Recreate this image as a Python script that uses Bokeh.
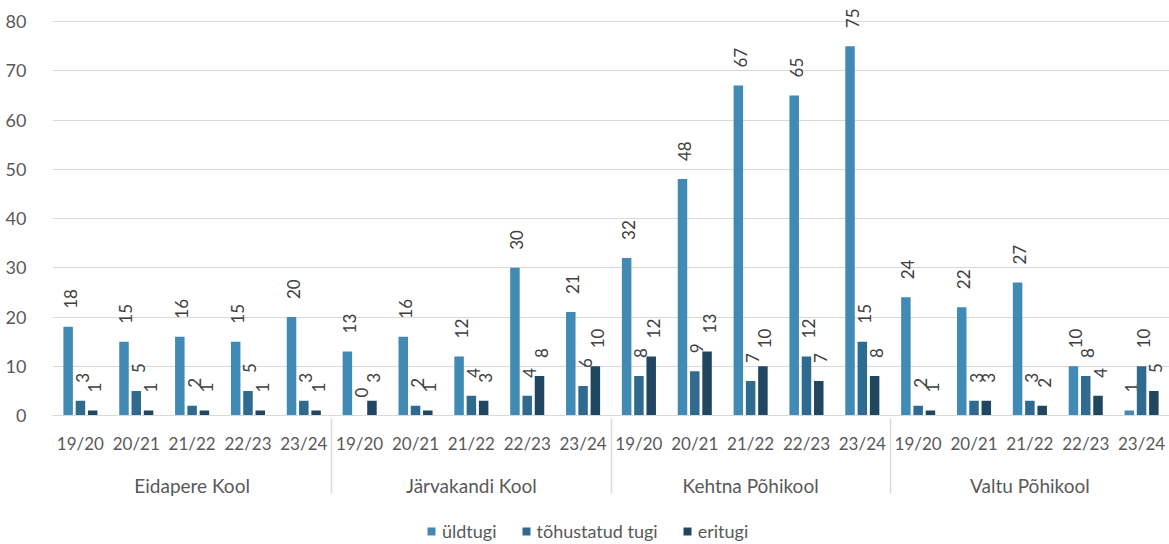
import math
from bokeh.plotting import figure
from bokeh.layouts import column
from bokeh.models import ColumnDataSource, FactorRange, Legend, LegendItem, Range1d
from bokeh.transform import dodge
from bokeh.core.properties import value
from bokeh.embed import file_html
from bokeh.resources import INLINE

schools = ["Eidapere Kool", "Järvakandi Kool", "Kehtna Põhikool", "Valtu Põhikool"]
years = ["19/20", "20/21", "21/22", "22/23", "23/24"]
series_names = ["üldtugi", "tõhustatud tugi", "eritugi"]
uldtugi = [18, 15, 16, 15, 20, 13, 16, 12, 30, 21, 32, 48, 67, 65, 75, 24, 22, 27, 10, 1]
tohustatud_tugi = [3, 5, 2, 5, 3, 0, 2, 4, 4, 6, 8, 9, 7, 12, 15, 2, 3, 3, 8, 10]
eritugi = [1, 1, 1, 1, 1, 3, 1, 3, 8, 10, 12, 13, 10, 7, 8, 1, 3, 2, 4, 5]
y_ticks = [0, 10, 20, 30, 40, 50, 60, 70, 80]

colors = ["#418AB3", "#2F6B8E", "#21465F"]
FONT = "Lato"
TXT = "#595959"
GRID = "#d9d9d9"

# 80 units span 394 px; the frame reaches 16 px higher so the top value label is not clipped
PX_PER_UNIT = 394 / 80
HEADROOM_PX = 16
Y_END = 80 + HEADROOM_PX / PX_PER_UNIT

factors = [(s, y) for s in schools for y in years]
series = [uldtugi, tohustatud_tugi, eritugi]
data = dict(x=factors)
for i, vals in enumerate(series):
    data[f"v{i}"] = vals
    data[f"l{i}"] = [str(v) for v in vals]
src = ColumnDataSource(data)

x_range = FactorRange(*factors, group_padding=0, factor_padding=0, range_padding=0)

p = figure(
    x_range=x_range,
    y_range=(0, Y_END),
    frame_width=1117, frame_height=394 + HEADROOM_PX,
    output_backend="svg", toolbar_location=None,
    min_border_left=52, min_border_right=0, min_border_top=5, min_border_bottom=0,
    outline_line_color=None,
)

offsets = [-0.22, 0.0, 0.22]
for i in range(3):
    p.vbar(x=dodge("x", offsets[i], range=x_range), top=f"v{i}", width=0.17,
           source=src, fill_color=colors[i], line_color=None)
    p.text(x=dodge("x", offsets[i], range=x_range), y=f"v{i}", text=f"l{i}", source=src,
           angle=math.pi / 2, text_align="left", text_baseline="middle",
           x_offset=2, y_offset=-18,
           text_font=value(FONT), text_font_size="17px", text_color="#404040")

xa = p.xaxis[0]
xa.axis_line_color = GRID
xa.major_tick_line_color = None
xa.major_tick_out = 0
xa.major_tick_in = 0
xa.minor_tick_line_color = None
xa.major_label_standoff = 17
xa.major_label_text_font = FONT
xa.major_label_text_font_size = "17px"
xa.major_label_text_color = TXT
xa.group_text_font = FONT
xa.group_text_font_size = "19px"
xa.group_text_font_style = "normal"
xa.group_text_color = TXT
xa.separator_line_color = GRID
xa.separator_line_width = 1.5

ya = p.yaxis[0]
ya.ticker = y_ticks
ya.axis_line_color = None
ya.major_tick_line_color = None
ya.minor_tick_line_color = None
ya.major_label_standoff = 20
ya.major_label_text_font = FONT
ya.major_label_text_font_size = "18px"
ya.major_label_text_color = TXT

p.xgrid.grid_line_color = None
p.ygrid.grid_line_color = GRID
p.ygrid.grid_line_width = 1

# legend strip: a separate small figure with hidden stand-in renderers
LEG_H = 64
lf = figure(
    x_range=x_range, y_range=Range1d(-2, -1),
    width=1169, height=LEG_H,
    output_backend="svg", toolbar_location=None,
    min_border=0, outline_line_color=None,
)
lf.axis.visible = False
lf.grid.visible = False
leg_renderers = []
for i in range(3):
    r = lf.vbar(x=dodge("x", offsets[i], range=x_range), top=f"v{i}", width=0.17,
                source=src, fill_color=colors[i], line_color=None)
    r.visible = False
    leg_renderers.append(r)

legend = Legend(
    items=[LegendItem(label=series_names[i], renderers=[leg_renderers[i]]) for i in range(3)],
    orientation="horizontal", location=(374, (LEG_H - 22) // 2),
    border_line_color=None, background_fill_alpha=0,
    glyph_width=10, glyph_height=10, label_standoff=6, spacing=24,
    padding=0, margin=0,
    label_text_font=FONT, label_text_font_size="18px", label_text_color=TXT,
)
lf.add_layout(legend, "center")

layout = column(p, lf, spacing=0)
open("out.html", "w").write(file_html(layout, INLINE))
